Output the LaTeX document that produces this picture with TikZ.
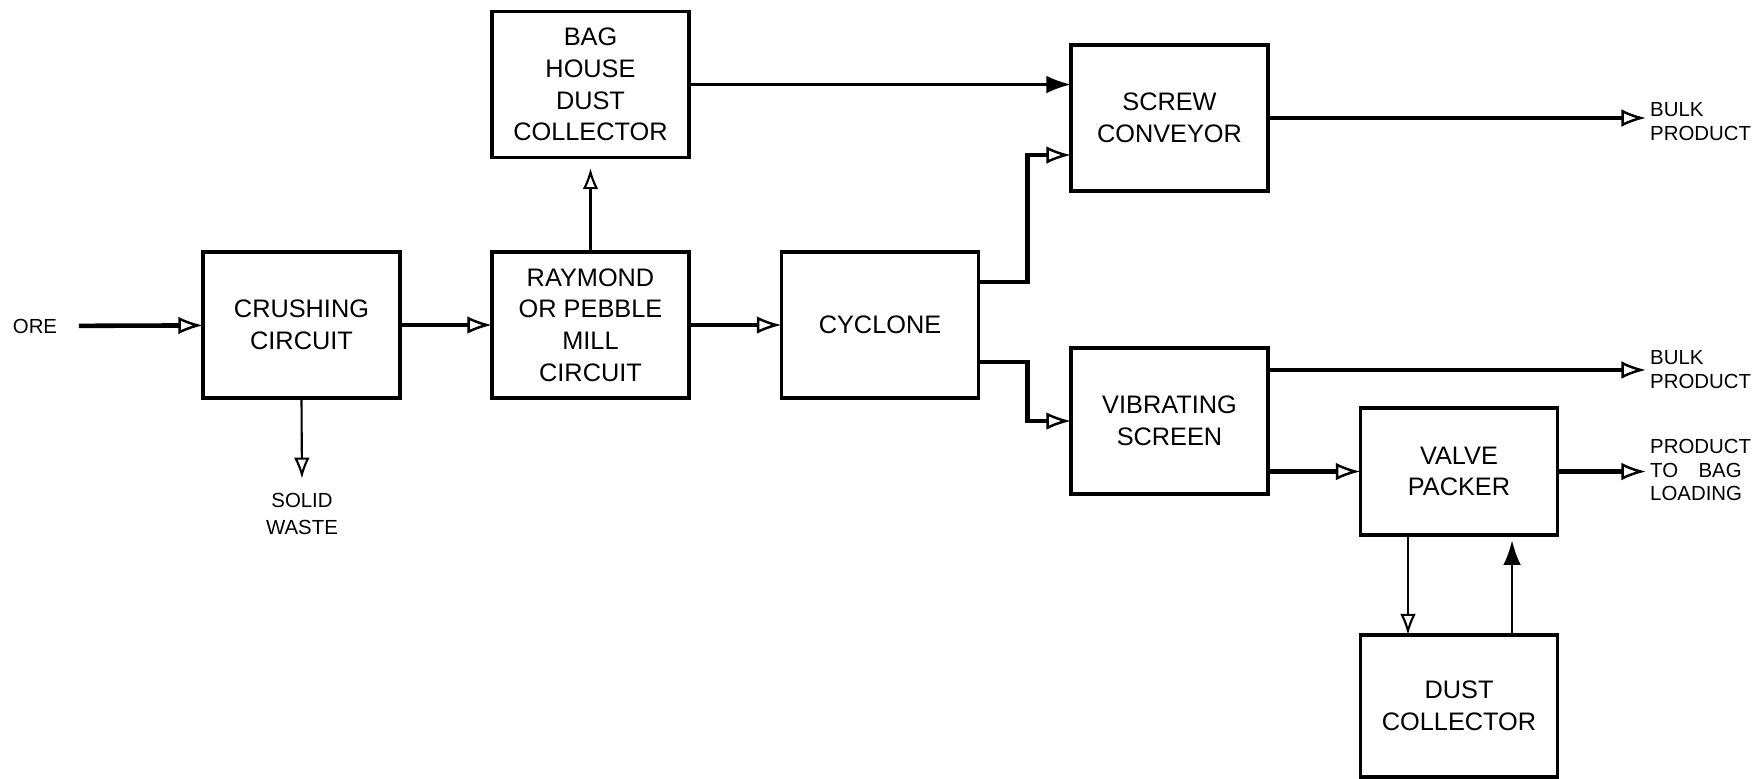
\documentclass[tikz,border=0pt]{standalone}
\usepackage{fontspec}
\setmainfont{Liberation Sans}
\usetikzlibrary{arrows.meta}
\begin{document}
\begin{tikzpicture}[x=0.01cm,y=-0.01cm,
  box/.style={draw,line width=0.9pt,minimum width=1.97cm,minimum height=1.46cm,inner sep=1pt,outer sep=0pt,align=center,font=\fontsize{7.2}{9}\selectfont},
  lbl/.style={inner sep=1pt,font=\fontsize{5.8}{6.8}\selectfont},
  flow/.style={line width=1.3pt,-{Latex[open,length=7pt,width=5pt,line width=0.7pt]}},
  thinflow/.style={line width=0.6pt,-{Latex[open,length=6pt,width=4.5pt,line width=0.6pt]}},
  filledflow/.style={line width=0.6pt,-{Latex[length=7pt,width=5pt]}}]
\useasboundingbox (0,0) rectangle (1752,778);
% boxes
\node[box] (crush) at (301.5,325) {CRUSHING\\CIRCUIT};
\node[box] (ray) at (590.5,325) {RAYMOND\\OR PEBBLE\\MILL\\CIRCUIT};
\node[box] (bag) at (590.5,84.5) {BAG\\HOUSE\\DUST\\COLLECTOR};
\node[box] (cyc) at (880,325) {CYCLONE};
\node[box] (screw) at (1169.5,118) {SCREW\\CONVEYOR};
\node[box] (vib) at (1169.5,421) {VIBRATING\\SCREEN};
\node[box,minimum height=1.27cm] (valve) at (1459,471.5) {VALVE\\PACKER};
\node[box,minimum height=1.42cm] (dust) at (1459,706) {DUST\\COLLECTOR};
% labels
\node[lbl] (ore) at (35,326) {ORE};
\node[lbl,align=center,font=\fontsize{5.8}{7.6}\selectfont] (waste) at (302,514) {SOLID\\WASTE};
\node[lbl,align=left,anchor=west] (bulk1) at (1646,122) {BULK\\PRODUCT};
\node[lbl,align=left,anchor=west] (bulk2) at (1646,370) {BULK\\PRODUCT};
\node[lbl,align=left,anchor=west] (load) at (1646,470) {PRODUCT\\\makebox[26pt][s]{TO\hfill BAG}\\LOADING};
% connectors
\draw[flow,shorten <=5pt] (ore) -- (crush);
\draw[flow] (crush) -- (ray);
\draw[flow] (ray) -- (cyc);
\draw[thinflow,shorten >=3pt] (ray) -- (bag);
\draw[filledflow] (bag.east) -- (bag.east -| screw.west);
\draw[flow] ([yshift=0.43cm]cyc.east) -- ++(49,0) |- ([yshift=-0.37cm]screw.west);
\draw[flow] ([yshift=-0.37cm]cyc.east) -- ++(49,0) |- (vib.west);
\draw[flow] (screw.east) -- (screw.east -| bulk1.west);
\draw[flow] ([yshift=0.51cm]vib.east) -- ([yshift=0.51cm]vib.east -| bulk2.west);
\draw[flow] (vib.east |- valve.west) -- (valve.west);
\draw[flow] (valve.east) -- (valve.east -| load.west);
\draw[thinflow,shorten >=3pt] (crush.south) -- (waste.north);
\draw[thinflow] ([xshift=-0.51cm]valve.south) -- ([xshift=-0.51cm]dust.north);
\draw[filledflow,shorten >=1.5pt] ([xshift=0.53cm]dust.north) -- ([xshift=0.53cm]valve.south);
\end{tikzpicture}
\end{document}
